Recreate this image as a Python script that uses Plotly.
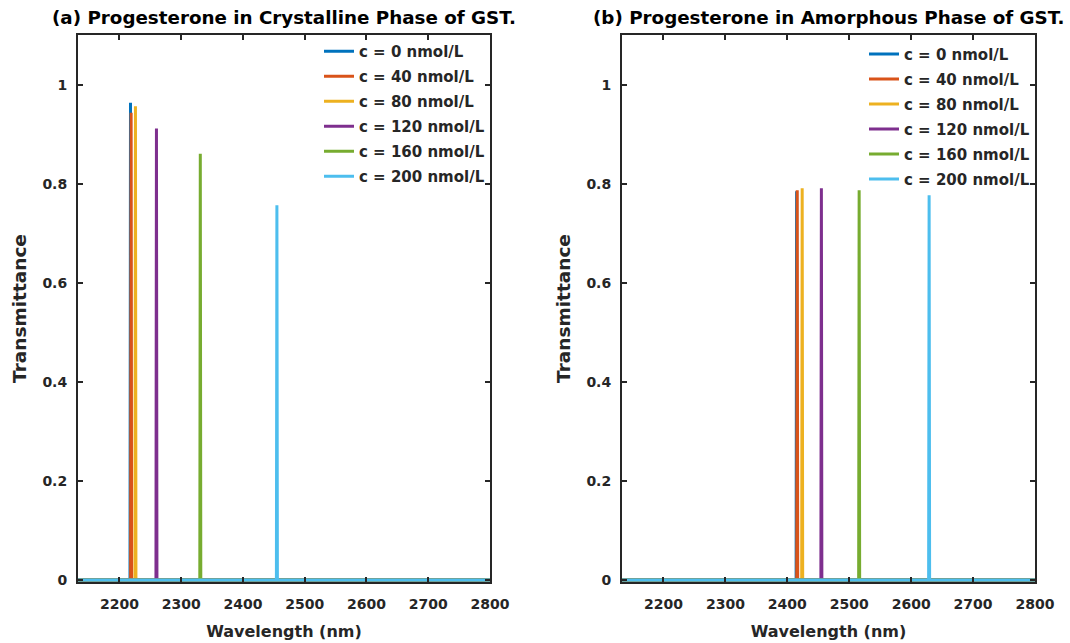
import plotly.graph_objects as go

# ---------------- data ----------------
WL_MIN, WL_MAX = 2133, 2800
LABELS = ["c = 0 nmol/L", "c = 40 nmol/L", "c = 80 nmol/L",
          "c = 120 nmol/L", "c = 160 nmol/L", "c = 200 nmol/L"]
COLORS = ["#0072BD", "#D95319", "#EDB120", "#7E2F8E", "#77AC30", "#4DBEEE"]

# (a) crystalline phase: resonance wavelength (nm) and peak transmittance
PEAK_WL_A = [2218, 2219, 2226, 2260, 2331, 2455]
PEAK_T_A = [0.965, 0.945, 0.958, 0.913, 0.862, 0.758]
# (b) amorphous phase
PEAK_WL_B = [2415, 2416, 2424, 2455, 2516, 2629]
PEAK_T_B = [0.786, 0.788, 0.792, 0.792, 0.788, 0.778]

HALF_WIDTH = 0.8  # nm, half base width of each narrow resonance

TITLE_A = "(a) Progesterone in Crystalline Phase of GST."
TITLE_B = "(b) Progesterone in Amorphous Phase of GST."
X_TITLE = "Wavelength (nm)"
Y_TITLE = "Transmittance"

# ---------------- figure ----------------
FONT = "DejaVu Sans"
INK = "#262626"
fig = go.Figure()


def spectrum(wl, t):
    xs = [WL_MIN, wl - HALF_WIDTH, wl, wl + HALF_WIDTH, WL_MAX]
    ys = [0, 0, t, 0, 0]
    return xs, ys


for i, lab in enumerate(LABELS):
    xs, ys = spectrum(PEAK_WL_A[i], PEAK_T_A[i])
    fig.add_trace(go.Scatter(x=xs, y=ys, mode="lines", name=lab,
                             legendgroup="a%d" % i,
                             line=dict(color=COLORS[i], width=3),
                             xaxis="x", yaxis="y", legend="legend"))
for i, lab in enumerate(LABELS):
    xs, ys = spectrum(PEAK_WL_B[i], PEAK_T_B[i])
    fig.add_trace(go.Scatter(x=xs, y=ys, mode="lines", name=lab,
                             legendgroup="b%d" % i,
                             line=dict(color=COLORS[i], width=3),
                             xaxis="x2", yaxis="y2", legend="legend2"))

plot_l, plot_r, plot_t, plot_b = 78, 35, 35, 61
W, H = 1070, 643
pw = W - plot_l - plot_r
ph = H - plot_t - plot_b
dom_a = [0, (490 - plot_l) / pw]
dom_b = [(622 - plot_l) / pw, 1]

tickfont = dict(family=FONT, size=14, color=INK, weight="bold")
xtitlefont = dict(family=FONT, size=16, color=INK, weight="bold")
ytitlefont = dict(family=FONT, size=18.5, color=INK, weight="bold")

xcommon = dict(range=[WL_MIN, WL_MAX], dtick=100, tick0=2200,
               ticks="inside", ticklen=5, tickwidth=2, tickcolor=INK,
               showline=True, linecolor=INK, linewidth=2, mirror="ticks",
               showgrid=False, zeroline=False, tickfont=tickfont,
               ticklabelstandoff=8, automargin=False,
               title=dict(text=X_TITLE, font=xtitlefont, standoff=15))
ycommon = dict(range=[-0.004, 1.102], dtick=0.2, tick0=0,
               ticks="inside", ticklen=5, tickwidth=2, tickcolor=INK,
               showline=True, linecolor=INK, linewidth=2, mirror="ticks",
               showgrid=False, zeroline=False, tickfont=tickfont,
               ticklabelstandoff=6, automargin=False,
               title=dict(text=Y_TITLE, font=ytitlefont, standoff=11))

legfont = dict(family=FONT, size=15, color=INK, weight="bold")
fig.update_layout(
    width=W, height=H,
    margin=dict(l=plot_l, r=plot_r, t=plot_t, b=plot_b, autoexpand=False),
    paper_bgcolor="white", plot_bgcolor="white",
    xaxis=dict(domain=dom_a, anchor="y", **xcommon),
    yaxis=dict(domain=[0, 1], anchor="x", **ycommon),
    xaxis2=dict(domain=dom_b, anchor="y2", **xcommon),
    yaxis2=dict(domain=[0, 1], anchor="x2", **ycommon),
    legend=dict(x=dom_a[1], xanchor="right", y=1.0, yanchor="top",
                bgcolor="rgba(0,0,0,0)", borderwidth=0,
                font=legfont, tracegroupgap=2.5),
    legend2=dict(x=dom_b[1], xanchor="right", y=0.995, yanchor="top",
                 bgcolor="rgba(0,0,0,0)", borderwidth=0,
                 font=legfont, tracegroupgap=2.5),
    showlegend=True,
)

ty = 1 + (plot_t - 18) / ph
for dom, txt in ((dom_a, TITLE_A), (dom_b, TITLE_B)):
    fig.add_annotation(x=(dom[0] + dom[1]) / 2, y=ty, xref="paper", yref="paper",
                       text=txt, showarrow=False, xanchor="center", yanchor="middle",
                       font=dict(family=FONT, size=18.3, color="black", weight="bold"))

fig.write_html("out.html", config={"displayModeBar": False},
               post_script="document.body.style.margin='0';document.body.style.overflow='hidden';")
